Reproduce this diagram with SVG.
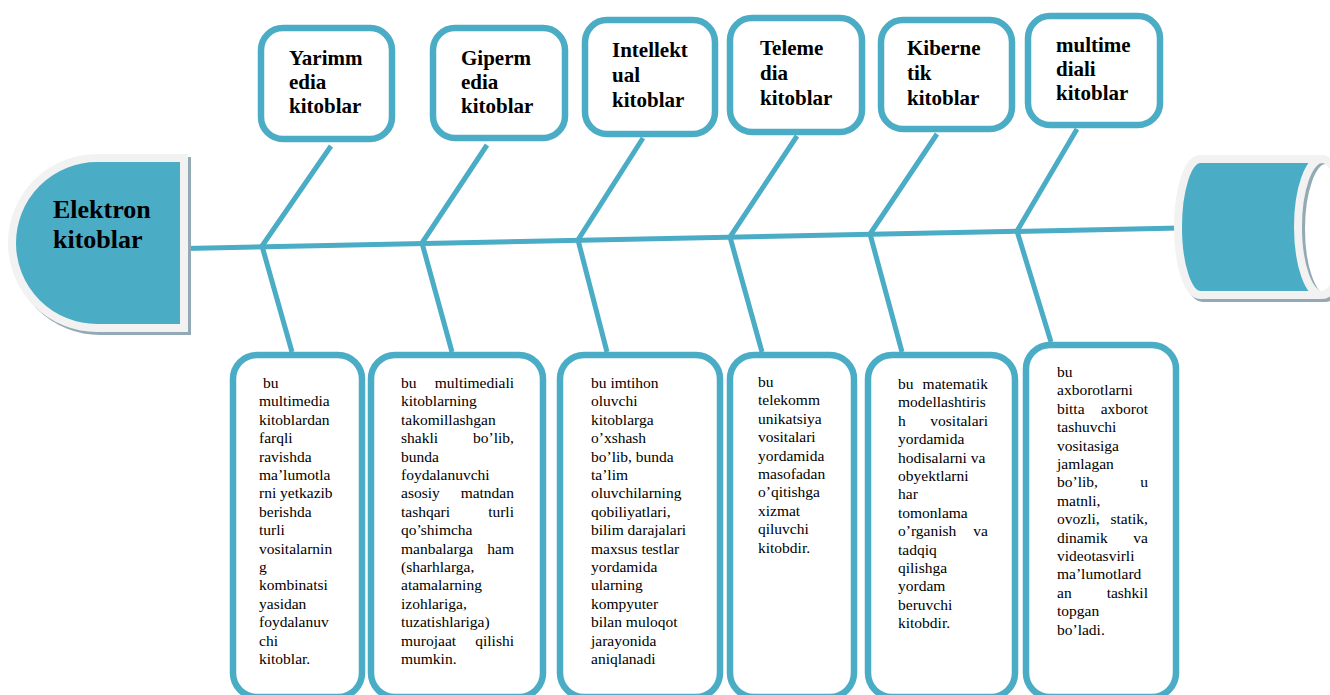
<svg xmlns="http://www.w3.org/2000/svg" width="1330" height="695" viewBox="0 0 1330 695">
  <style>
    .box { fill: #ffffff; stroke: #4BACC6; stroke-width: 6.5; }
    .link { fill: none; stroke: #4BACC6; stroke-width: 5; stroke-linecap: butt; }
    .title { font-family: "Liberation Serif", "Times New Roman", serif; font-weight: bold; font-size: 21px; fill: #000; }
    .head { font-family: "Liberation Serif", "Times New Roman", serif; font-weight: bold; font-size: 26px; fill: #000; }
    .txt { font-family: "Liberation Serif", "Times New Roman", serif; font-size: 15.5px; fill: #000; }
    .r { text-anchor: end; }
    .rim { stroke: #F2F2F2; stroke-width: 8; }
    .shade { fill: #93A9B3; stroke: #93A9B3; stroke-width: 8; }
  </style>

  <rect width="1330" height="695" fill="#ffffff"/>

  <!-- spine and branches -->
  <g id="connectors">
    <line class="link" x1="185" y1="248.5" x2="1180" y2="228" stroke-width="5.5"/>
    <polyline class="link" points="331,146 262,246 292,352"/>
    <polyline class="link" points="487,145 422,243 452,352"/>
    <polyline class="link" points="643,138 578,240 607,352"/>
    <polyline class="link" points="797,136 730,237 762,352"/>
    <polyline class="link" points="937,134 870,234 902,352"/>
    <polyline class="link" points="1077,129 1017,231 1051,342"/>
  </g>

  <!-- head: Elektron kitoblar -->
  <g id="head">
    <path class="shade" d="M187,161 H100 A85,85 0 0 0 100,331 H187 Z"/>
    <path class="rim" fill="#4BACC6" d="M184,158 H97 A85,85 0 0 0 97,328 H184 Z"/>
    <text class="head" x="53" y="218">Elektron</text>
    <text class="head" x="53" y="248">kitoblar</text>
  </g>

  <!-- tail: horizontal cylinder -->
  <g id="tail">
    <path class="shade" d="M1203,162 H1325 A24,68 0 0 1 1325,298 H1203 A22,68 0 0 1 1203,162 Z"/>
    <path class="rim" fill="#4BACC6" d="M1200,159 H1322 A24,68 0 0 1 1322,295 H1200 A22,68 0 0 1 1200,159 Z"/>
    <ellipse cx="1322" cy="227" rx="24" ry="68" fill="#ffffff"/>
    <ellipse cx="1326" cy="229" rx="24" ry="68" fill="none" stroke="#93A9B3" stroke-width="6"/>
    <ellipse class="rim" cx="1322" cy="227" rx="24" ry="68" fill="none"/>
  </g>

  <!-- top row -->
  <g id="t1">
    <rect class="box" x="261" y="28" width="131" height="111" rx="22"/>
    <text class="title" x="289" y="65">Yarimm</text>
    <text class="title" x="289" y="89">edia</text>
    <text class="title" x="289" y="113">kitoblar</text>
  </g>
  <g id="t2">
    <rect class="box" x="433" y="28" width="132" height="110" rx="22"/>
    <text class="title" x="461" y="65">Giperm</text>
    <text class="title" x="461" y="89">edia</text>
    <text class="title" x="461" y="113">kitoblar</text>
  </g>
  <g id="t3">
    <rect class="box" x="585" y="20" width="130" height="114" rx="22"/>
    <text class="title" x="612" y="57">Intellekt</text>
    <text class="title" x="612" y="82">ual</text>
    <text class="title" x="612" y="107">kitoblar</text>
  </g>
  <g id="t4">
    <rect class="box" x="730" y="18" width="132" height="114" rx="22"/>
    <text class="title" x="760" y="55">Teleme</text>
    <text class="title" x="760" y="80">dia</text>
    <text class="title" x="760" y="105">kitoblar</text>
  </g>
  <g id="t5">
    <rect class="box" x="881" y="20" width="131" height="109" rx="22"/>
    <text class="title" x="907" y="55">Kiberne</text>
    <text class="title" x="907" y="80">tik</text>
    <text class="title" x="907" y="105">kitoblar</text>
  </g>
  <g id="t6">
    <rect class="box" x="1028" y="16" width="132" height="109" rx="22"/>
    <text class="title" x="1056" y="52">multime</text>
    <text class="title" x="1056" y="76">diali</text>
    <text class="title" x="1056" y="100">kitoblar</text>
  </g>

  <!-- bottom row -->
  <g id="b1">
    <rect class="box" x="233" y="355" width="129" height="342" rx="24"/>
    <text class="txt" x="263" y="388">bu</text>
    <text class="txt" x="259" y="406.4">multimedia</text>
    <text class="txt" x="259" y="424.8">kitoblardan</text>
    <text class="txt" x="259" y="443.2">farqli</text>
    <text class="txt" x="259" y="461.6">ravishda</text>
    <text class="txt" x="259" y="480">ma’lumotla</text>
    <text class="txt" x="259" y="498.4">rni yetkazib</text>
    <text class="txt" x="259" y="516.8">berishda</text>
    <text class="txt" x="259" y="535.2">turli</text>
    <text class="txt" x="259" y="553.6">vositalarnin</text>
    <text class="txt" x="259" y="572">g</text>
    <text class="txt" x="259" y="590.4">kombinatsi</text>
    <text class="txt" x="259" y="608.8">yasidan</text>
    <text class="txt" x="259" y="627.2">foydalanuv</text>
    <text class="txt" x="259" y="645.6">chi</text>
    <text class="txt" x="259" y="664">kitoblar.</text>
  </g>
  <g id="b2">
    <rect class="box" x="371" y="355" width="172" height="342" rx="24"/>
    <text class="txt" x="401" y="388">bu</text><text class="txt r" x="514" y="388">multimediali</text>
    <text class="txt" x="401" y="406.4">kitoblarning</text>
    <text class="txt" x="401" y="424.8">takomillashgan</text>
    <text class="txt" x="401" y="443.2">shakli</text><text class="txt r" x="514" y="443.2">bo’lib,</text>
    <text class="txt" x="401" y="461.6">bunda</text>
    <text class="txt" x="401" y="480">foydalanuvchi</text>
    <text class="txt" x="401" y="498.4">asosiy</text><text class="txt r" x="514" y="498.4">matndan</text>
    <text class="txt" x="401" y="516.8">tashqari</text><text class="txt r" x="514" y="516.8">turli</text>
    <text class="txt" x="401" y="535.2">qo’shimcha</text>
    <text class="txt" x="401" y="553.6">manbalarga</text><text class="txt r" x="514" y="553.6">ham</text>
    <text class="txt" x="401" y="572">(sharhlarga,</text>
    <text class="txt" x="401" y="590.4">atamalarning</text>
    <text class="txt" x="401" y="608.8">izohlariga,</text>
    <text class="txt" x="401" y="627.2">tuzatishlariga)</text>
    <text class="txt" x="401" y="645.6">murojaat</text><text class="txt r" x="514" y="645.6">qilishi</text>
    <text class="txt" x="401" y="664">mumkin.</text>
  </g>
  <g id="b3">
    <rect class="box" x="560" y="355" width="160" height="342" rx="24"/>
    <text class="txt" x="591" y="388">bu imtihon</text>
    <text class="txt" x="591" y="406.4">oluvchi</text>
    <text class="txt" x="591" y="424.8">kitoblarga</text>
    <text class="txt" x="591" y="443.2">o’xshash</text>
    <text class="txt" x="591" y="461.6">bo’lib, bunda</text>
    <text class="txt" x="591" y="480">ta’lim</text>
    <text class="txt" x="591" y="498.4">oluvchilarning</text>
    <text class="txt" x="591" y="516.8">qobiliyatlari,</text>
    <text class="txt" x="591" y="535.2">bilim darajalari</text>
    <text class="txt" x="591" y="553.6">maxsus testlar</text>
    <text class="txt" x="591" y="572">yordamida</text>
    <text class="txt" x="591" y="590.4">ularning</text>
    <text class="txt" x="591" y="608.8">kompyuter</text>
    <text class="txt" x="591" y="627.2">bilan muloqot</text>
    <text class="txt" x="591" y="645.6">jarayonida</text>
    <text class="txt" x="591" y="664">aniqlanadi</text>
  </g>
  <g id="b4">
    <rect class="box" x="730" y="355" width="124" height="342" rx="24"/>
    <text class="txt" x="758" y="387">bu</text>
    <text class="txt" x="758" y="405.4">telekomm</text>
    <text class="txt" x="758" y="423.8">unikatsiya</text>
    <text class="txt" x="758" y="442.2">vositalari</text>
    <text class="txt" x="758" y="460.6">yordamida</text>
    <text class="txt" x="758" y="479">masofadan</text>
    <text class="txt" x="758" y="497.4">o’qitishga</text>
    <text class="txt" x="758" y="515.8">xizmat</text>
    <text class="txt" x="758" y="534.2">qiluvchi</text>
    <text class="txt" x="758" y="552.6">kitobdir.</text>
  </g>
  <g id="b5">
    <rect class="box" x="868" y="355" width="147" height="342" rx="24"/>
    <text class="txt" x="898" y="389">bu</text><text class="txt r" x="988" y="389">matematik</text>
    <text class="txt" x="898" y="407.4">modellashtiris</text>
    <text class="txt" x="898" y="425.8">h</text><text class="txt r" x="988" y="425.8">vositalari</text>
    <text class="txt" x="898" y="444.2">yordamida</text>
    <text class="txt" x="898" y="462.6">hodisalarni va</text>
    <text class="txt" x="898" y="481">obyektlarni</text>
    <text class="txt" x="898" y="499.4">har</text>
    <text class="txt" x="898" y="517.8">tomonlama</text>
    <text class="txt" x="898" y="536.2">o’rganish</text><text class="txt r" x="988" y="536.2">va</text>
    <text class="txt" x="898" y="554.6">tadqiq</text>
    <text class="txt" x="898" y="573">qilishga</text>
    <text class="txt" x="898" y="591.4">yordam</text>
    <text class="txt" x="898" y="609.8">beruvchi</text>
    <text class="txt" x="898" y="628.2">kitobdir.</text>
  </g>
  <g id="b6">
    <rect class="box" x="1026" y="345" width="150" height="352" rx="24"/>
    <text class="txt" x="1057" y="377">bu</text>
    <text class="txt" x="1057" y="395.4">axborotlarni</text>
    <text class="txt" x="1057" y="413.8">bitta</text><text class="txt r" x="1148" y="413.8">axborot</text>
    <text class="txt" x="1057" y="432.2">tashuvchi</text>
    <text class="txt" x="1057" y="450.6">vositasiga</text>
    <text class="txt" x="1057" y="469">jamlagan</text>
    <text class="txt" x="1057" y="487.4">bo’lib,</text><text class="txt r" x="1148" y="487.4">u</text>
    <text class="txt" x="1057" y="505.8">matnli,</text>
    <text class="txt" x="1057" y="524.2">ovozli,</text><text class="txt r" x="1148" y="524.2">statik,</text>
    <text class="txt" x="1057" y="542.6">dinamik</text><text class="txt r" x="1148" y="542.6">va</text>
    <text class="txt" x="1057" y="561">videotasvirli</text>
    <text class="txt" x="1057" y="579.4">ma’lumotlard</text>
    <text class="txt" x="1057" y="597.8">an</text><text class="txt r" x="1148" y="597.8">tashkil</text>
    <text class="txt" x="1057" y="616.2">topgan</text>
    <text class="txt" x="1057" y="634.6">bo’ladi.</text>
  </g>
</svg>
